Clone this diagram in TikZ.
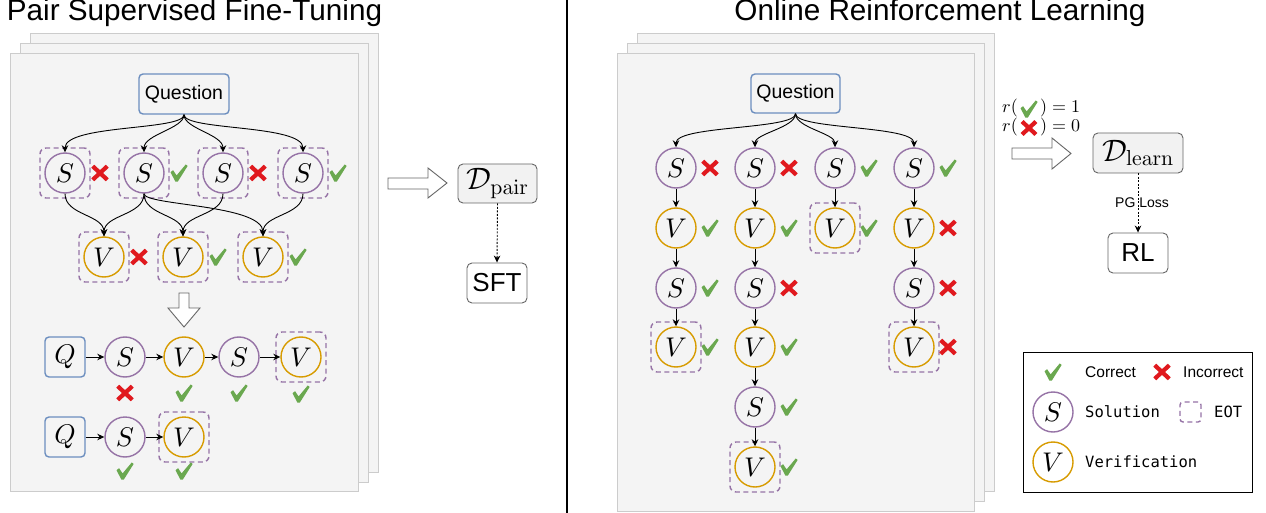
\documentclass[tikz,border=0pt]{standalone}
\usepackage[no-math]{fontspec}
\DeclareFontShape{OML}{cmm}{m}{it}{<->cmmi10}{\skewchar\font'177}
\DeclareFontShape{OMS}{cmsy}{m}{n}{<->cmsy10}{\skewchar\font'60}
\DeclareFontShape{OT1}{cmr}{m}{n}{<->cmr10}{}
\DeclareFontShape{OMX}{cmex}{m}{n}{<->cmex10}{}
\newfontfamily\lsans{Liberation Sans}
\newfontfamily\dmono{DejaVu Sans Mono}
\usetikzlibrary{arrows.meta}
\definecolor{spurple}{HTML}{9673A6}
\definecolor{vorange}{HTML}{D79B00}
\definecolor{qblue}{HTML}{6C8EBF}
\definecolor{pagefill}{HTML}{F4F4F4}
\definecolor{pageline}{HTML}{CCCCCC}
\definecolor{cgreen}{HTML}{6AA84F}
\definecolor{cred}{HTML}{E0191E}
\definecolor{boxline}{HTML}{666666}
\definecolor{dfill}{HTML}{F2F2F2}
\newcommand\myfs[1]{\fontsize{#1}{#1}\selectfont}
\begin{document}
\begin{tikzpicture}[x=1pt,y=1pt,
 page/.style={draw=pageline, fill=pagefill, line width=1pt},
 snode/.style={circle, draw=spurple, line width=1.4pt, minimum size=40pt, inner sep=0pt, font=\myfs{27}},
 vnode/.style={snode, draw=vorange},
 qbox/.style={draw=qblue, rounded corners=4pt, line width=1.4pt, minimum width=40pt, minimum height=40pt, inner sep=0pt, font=\myfs{27}},
 eot/.style={draw=spurple, line width=1.4pt, dash pattern=on 5pt off 3.5pt, rounded corners=6pt, minimum width=50pt, minimum height=50pt, inner sep=0pt},
 arr/.style={-{Stealth[length=7pt,width=6.5pt]}, line width=0.9pt},
 darr/.style={arr, dash pattern=on 2pt off 1.5pt},
 gbox/.style={draw=boxline, rounded corners=5pt, line width=0.9pt, inner sep=0pt},
 blockarr/.style={draw=boxline, fill=white, line width=0.9pt},
 ttl/.style={font=\lsans\myfs{29.7}, anchor=base, inner sep=0pt},
 lgtxt/.style={anchor=west, inner sep=0pt},
 chk/.pic={\fill[cgreen] (-8.5,0.8) -- (-5.9,2.8) -- (-2.4,-2.4) -- (6.8,8.6) -- (8.6,7.0) -- (-1.2,-8.6) -- (-3.6,-8.6) -- cycle;},
 crs/.pic={\draw[cred, line width=4.2pt] (-7.3,-6.8) -- (7.3,6.8) (-7.3,6.8) -- (7.3,-6.8);}
]
\useasboundingbox (0,0) rectangle (1266,-513);
\fill[white] (0,0) rectangle (1266,-513);

% ---------- titles and divider ----------
\node[ttl] (t1) at (194.5,-21) {Pair Supervised Fine-Tuning};
\node[ttl] (t2) at (940,-21) {Online Reinforcement Learning};
\draw[line width=2pt] (567,0) -- (567,-513);

% ---------- left pages ----------
\draw[page] (30,-34) rectangle (378,-472);
\draw[page] (20,-44) rectangle (368,-482);
\draw[page] (10,-54) rectangle (358,-491);

\node[qbox, minimum width=90pt, font=\lsans\myfs{19.5}] (qL) at (184,-94) {Question};
\foreach \n/\x in {1/65,2/144,3/223,4/303} {
  \node[eot] (es\n) at (\x,-173) {};
  \node[snode] (s\n) at (\x,-173) {$S$};
}
\foreach \n/\x in {1/104,2/183,3/263} {
  \node[eot] (ev\n) at (\x,-257) {};
  \node[vnode] (v\n) at (\x,-257) {$V$};
}
\pic at (100,-173) {crs}; \pic at (179,-173) {chk};
\pic at (258,-173) {crs}; \pic at (338,-173) {chk};
\pic at (139,-257) {crs}; \pic at (218,-257) {chk}; \pic at (298,-257) {chk};

\draw[arr] (qL.south) .. controls +(0,-16) and +(0,28) .. (s1.north);
\draw[arr] (qL.south) .. controls +(0,-14) and +(0,18) .. (s2.north);
\draw[arr] (qL.south) .. controls +(0,-14) and +(0,18) .. (s3.north);
\draw[arr] (qL.south) .. controls +(0,-16) and +(0,28) .. (s4.north);
\draw[arr] (s1.south) .. controls +(0,-22) and +(0,22) .. (v1.north);
\draw[arr] (s2.south) .. controls +(0,-22) and +(0,22) .. (v1.north);
\draw[arr] (s2.south) .. controls +(0,-22) and +(0,22) .. (v2.north);
\draw[arr] (s2.south) .. controls +(0,-12) and +(0,32) .. (v3.north);
\draw[arr] (s3.south) .. controls +(0,-22) and +(0,22) .. (v2.north);
\draw[arr] (s4.south) .. controls +(0,-22) and +(0,22) .. (v3.north);

\draw[blockarr] (179,-293) -- (189,-293) -- (189,-308) -- (200,-308) -- (184,-327) -- (168,-308) -- (179,-308) -- cycle;

% sequence 1
\node[qbox] (qa) at (65,-357) {$Q$};
\node[snode] (sa1) at (125,-357) {$S$};
\node[vnode] (va1) at (184,-357) {$V$};
\node[snode] (sa2) at (239,-357) {$S$};
\node[eot] (eva2) at (301,-357) {};
\node[vnode] (va2) at (301,-357) {$V$};
\draw[arr] (qa) -- (sa1);
\draw[arr] (sa1) -- (va1);
\draw[arr] (va1) -- (sa2);
\draw[arr] (sa2) -- (va2);
\pic at (125,-393) {crs}; \pic at (184,-393) {chk};
\pic at (239,-393) {chk}; \pic at (301,-394) {chk};

% sequence 2
\node[qbox] (qb) at (65,-437) {$Q$};
\node[snode] (sb1) at (125,-437) {$S$};
\node[eot] (evb1) at (184,-437) {};
\node[vnode] (vb1) at (184,-437) {$V$};
\draw[arr] (qb) -- (sb1);
\draw[arr] (sb1) -- (vb1);
\pic at (125,-471) {chk}; \pic at (184,-471) {chk};

% D_pair and SFT
\draw[blockarr] (388,-178) -- (428,-178) -- (428,-168) -- (447,-183) -- (428,-198) -- (428,-189) -- (388,-189) -- cycle;
\node[gbox, fill=dfill, minimum width=79pt, minimum height=39pt, font=\myfs{31}] (dp) at (497.5,-183.5) {$\mathcal{D}_{\mathrm{pair}}$};
\node[gbox, fill=white, minimum width=60pt, minimum height=40pt, font=\lsans\myfs{26}] (sft) at (497,-283) {SFT};
\draw[darr] (dp.south) -- (sft.north);

% ---------- right pages ----------
\draw[page] (637,-34) rectangle (994,-491);
\draw[page] (627,-44) rectangle (984,-501);
\draw[page] (617,-54) rectangle (974,-511);

\node[qbox, minimum width=89pt, minimum height=39pt, font=\lsans\myfs{19.5}] (qR) at (795.5,-93.5) {Question};

% column 1
\node[snode] (a1) at (676,-168) {$S$};
\node[vnode] (a2) at (676,-228) {$V$};
\node[snode] (a3) at (676,-288) {$S$};
\node[eot] (ea4) at (676,-347) {};
\node[vnode] (a4) at (676,-347) {$V$};
% column 2
\node[snode] (b1) at (755,-168) {$S$};
\node[vnode] (b2) at (755,-228) {$V$};
\node[snode] (b3) at (755,-288) {$S$};
\node[vnode] (b4) at (755,-347) {$V$};
\node[snode] (b5) at (755,-407) {$S$};
\node[eot] (eb6) at (755,-467) {};
\node[vnode] (b6) at (755,-467) {$V$};
% column 3
\node[snode] (c1) at (835,-168) {$S$};
\node[eot] (ec2) at (835,-228) {};
\node[vnode] (c2) at (835,-228) {$V$};
% column 4
\node[snode] (d1) at (914,-168) {$S$};
\node[vnode] (d2) at (914,-228) {$V$};
\node[snode] (d3) at (914,-288) {$S$};
\node[eot] (ed4) at (914,-347) {};
\node[vnode] (d4) at (914,-347) {$V$};

\draw[arr] (qR.south) .. controls +(0,-16) and +(0,22) .. (a1.north);
\draw[arr] (qR.south) .. controls +(0,-14) and +(0,14) .. (b1.north);
\draw[arr] (qR.south) .. controls +(0,-14) and +(0,14) .. (c1.north);
\draw[arr] (qR.south) .. controls +(0,-16) and +(0,22) .. (d1.north);
\draw[arr] (a1) -- (a2); \draw[arr] (a2) -- (a3); \draw[arr] (a3) -- (a4);
\draw[arr] (b1) -- (b2); \draw[arr] (b2) -- (b3); \draw[arr] (b3) -- (b4);
\draw[arr] (b4) -- (b5); \draw[arr] (b5) -- (b6);
\draw[arr] (c1) -- (c2);
\draw[arr] (d1) -- (d2); \draw[arr] (d2) -- (d3); \draw[arr] (d3) -- (d4);

\pic at (710,-168) {crs}; \pic at (710,-228) {chk}; \pic at (710,-288) {chk}; \pic at (710,-347) {chk};
\pic at (789,-168) {crs}; \pic at (789,-228) {chk}; \pic at (789,-288) {crs}; \pic at (789,-347) {chk};
\pic at (789,-407) {chk}; \pic at (789,-467) {chk};
\pic at (869,-168) {chk}; \pic at (869,-228) {chk};
\pic at (948,-168) {chk}; \pic at (948,-228) {crs}; \pic at (948,-288) {crs}; \pic at (948,-347) {crs};

% reward text
\node[anchor=base east, inner sep=0pt, font=\myfs{18}] (r1a) at (1018,-113) {$r($};
\pic at (1029,-109) {chk};
\node[anchor=base west, inner sep=0pt, font=\myfs{18}] (r1b) at (1040,-113) {$)=1$};
\node[anchor=base east, inner sep=0pt, font=\myfs{18}] (r2a) at (1018,-132) {$r($};
\pic[scale=0.95] at (1029,-128) {crs};
\node[anchor=base west, inner sep=0pt, font=\myfs{18}] (r2b) at (1040,-132) {$)=0$};

\draw[blockarr] (1012,-148) -- (1052,-148) -- (1052,-138) -- (1071,-153.5) -- (1052,-169) -- (1052,-159) -- (1012,-159) -- cycle;
\node[gbox, fill=dfill, minimum width=90pt, minimum height=40pt, font=\myfs{31}] (dl) at (1138,-153) {$\mathcal{D}_{\mathrm{learn}}$};
\node[gbox, fill=white, minimum width=60pt, minimum height=40pt, font=\lsans\myfs{26}] (rl) at (1138,-253) {RL};
\draw[darr] (dl.south) -- node[font=\lsans\myfs{14}, inner sep=0pt, xshift=4pt] (pg) {PG Loss} (rl.north);

% ---------- legend ----------
\draw[line width=1pt] (1023,-352) rectangle (1252,-492);
\pic at (1053,-372) {chk};
\node[lgtxt, font=\lsans\myfs{15.5}] (lc) at (1085,-372) {Correct};
\pic at (1162,-372) {crs};
\node[lgtxt, font=\lsans\myfs{15.5}] (li) at (1183,-372) {Incorrect};
\node[snode] (ls) at (1053,-412) {$S$};
\node[lgtxt, font=\dmono\myfs{15.5}] (lst) at (1085,-412) {Solution};
\node[draw=spurple, line width=1.4pt, dash pattern=on 5pt off 3.5pt, rounded corners=3pt, minimum width=21pt, minimum height=20pt, inner sep=0pt] (leot) at (1190.5,-412) {};
\node[lgtxt, font=\dmono\myfs{15.5}] (let) at (1214,-412) {EOT};
\node[vnode] (lv) at (1053,-462) {$V$};
\node[lgtxt, font=\dmono\myfs{15.5}] (lvt) at (1085,-462) {Verification};
\end{tikzpicture}
\end{document}
